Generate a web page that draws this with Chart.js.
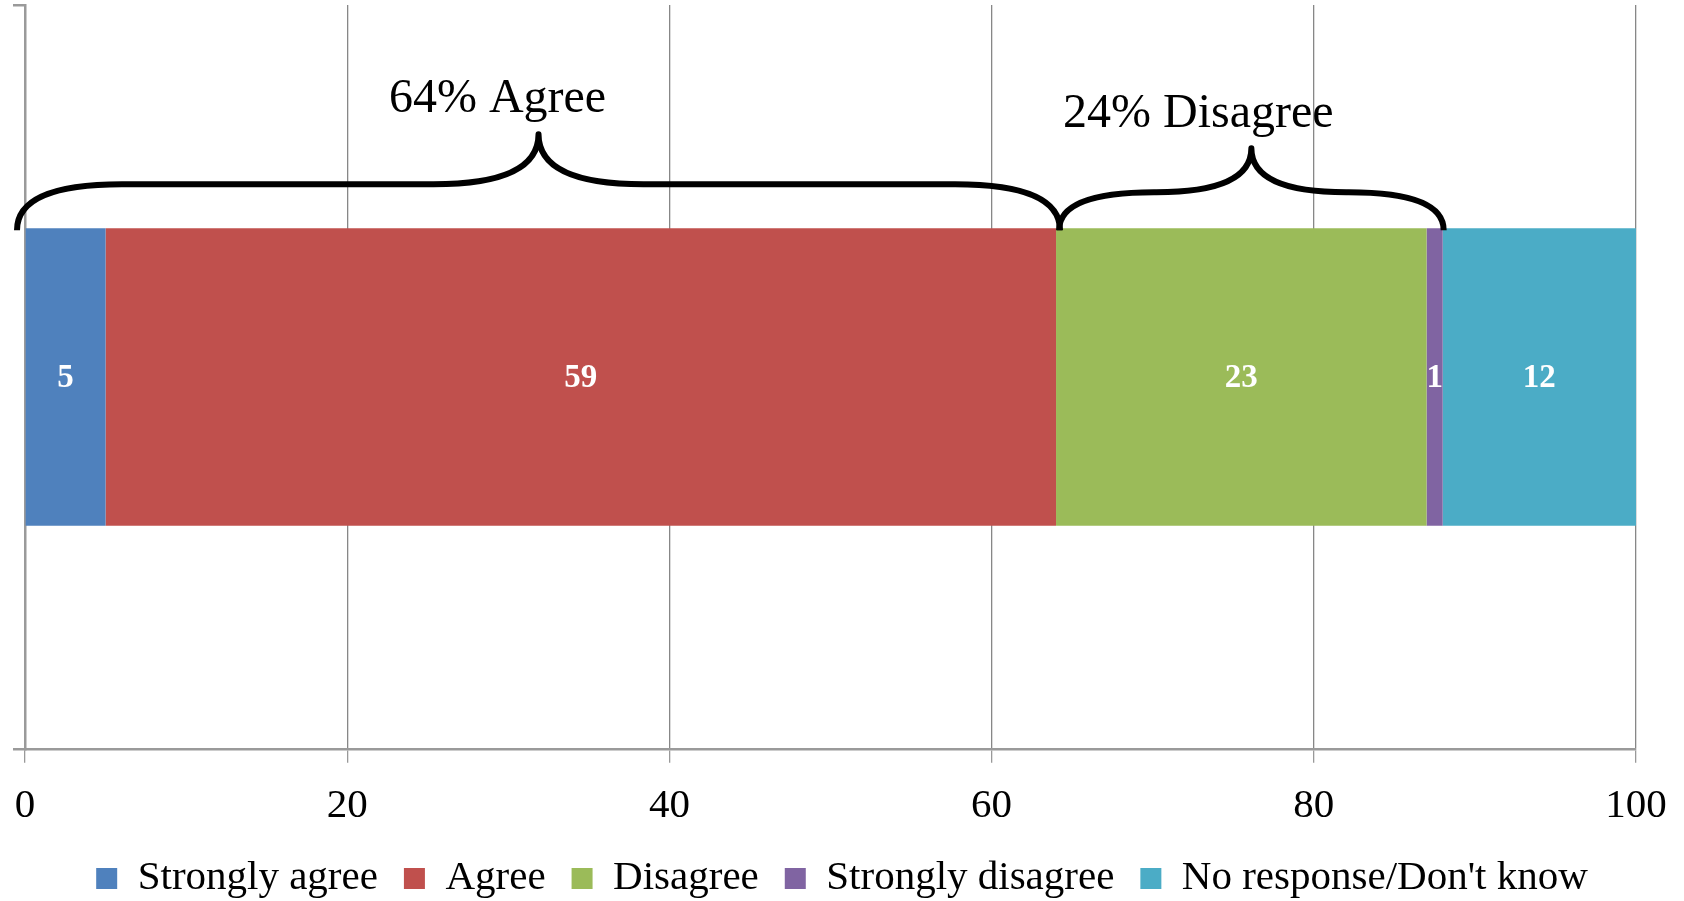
<!DOCTYPE html>
<html>
<head>
<meta charset="utf-8">
<script src="https://cdn.jsdelivr.net/npm/chart.js@4.4.1/dist/chart.umd.min.js"></script>
<style>
  html, body { margin: 0; padding: 0; background: #fff; }
  #wrap { width: 1684px; height: 901px; position: relative; }
</style>
</head>
<body>
<div id="wrap"><canvas id="c"></canvas></div>
<script>
// ---- data ----
const categories = [''];
const seriesNames = ['Strongly agree', 'Agree', 'Disagree', 'Strongly disagree', "No response/Don't know"];
const stronglyAgree = [5];
const agree = [59];
const disagree = [23];
const stronglyDisagree = [1];
const noResponse = [12];
const xTickValues = [0, 20, 40, 60, 80, 100];
const braceLabels = ['64% Agree', '24% Disagree'];
const braceStart = [0, 64];
const braceEnd = [64, 88];

const seriesColors = ['#4F81BD', '#C0504D', '#9BBB59', '#8064A2', '#4BACC6'];
const seriesValues = [stronglyAgree, agree, disagree, stronglyDisagree, noResponse];

const SERIF = '"Liberation Serif", "Times New Roman", serif';

const valueLabelPlugin = {
  id: 'valueLabels',
  afterDatasetsDraw(chart) {
    const ctx = chart.ctx;
    ctx.save();
    ctx.fillStyle = '#ffffff';
    ctx.font = 'bold 33px ' + SERIF;
    ctx.textAlign = 'center';
    ctx.textBaseline = 'middle';
    chart.data.datasets.forEach((ds, i) => {
      const meta = chart.getDatasetMeta(i);
      meta.data.forEach((el, j) => {
        const p = el.getCenterPoint();
        ctx.fillText(String(ds.data[j]), p.x, p.y + 2);
      });
    });
    ctx.restore();
  }
};

const legendPlacePlugin = {
  id: 'legendPlace',
  afterLayout(chart) {
    const L = chart.legend;
    if (!L) return;
    const dx = chart.width / 2 - (L.left + L.right) / 2;
    L.left += dx; L.right += dx;
    const dy = -18;
    L.top += dy; L.bottom += dy;
  }
};

const bracePlugin = {
  id: 'braces',
  afterDatasetsDraw(chart) {
    const ctx = chart.ctx;
    const xs = chart.scales.x;
    const bar = chart.getDatasetMeta(0).data[0];
    const barTop = bar.y - bar.height / 2;
    // per-brace styling (pixel tweaks)
    const style = [
      { dl: -8, dr: 4, flat: 46, peak: 96, r: 105, tdx: -41, tdy: 22 },
      { dl: 3, dr: 1, flat: 38, peak: 82, r: 95, tdx: -53, tdy: 21 }
    ];
    ctx.save();
    braceLabels.forEach((label, i) => {
      const s = style[i];
      const x0 = xs.getPixelForValue(braceStart[i]) + s.dl;
      const x1 = xs.getPixelForValue(braceEnd[i]) + s.dr;
      const xc = (x0 + x1) / 2;
      const base = barTop + 2;
      const yf = base - s.flat;
      const yp = base - s.peak;
      const r = Math.min(s.r, (xc - x0) / 2);
      ctx.beginPath();
      ctx.moveTo(x0, base);
      ctx.quadraticCurveTo(x0, yf, x0 + r, yf);
      ctx.lineTo(xc - r, yf);
      ctx.quadraticCurveTo(xc, yf, xc, yp);
      ctx.quadraticCurveTo(xc, yf, xc + r, yf);
      ctx.lineTo(x1 - r, yf);
      ctx.quadraticCurveTo(x1, yf, x1, base);
      ctx.lineWidth = 6;
      ctx.strokeStyle = '#000';
      ctx.lineJoin = 'round';
      ctx.lineCap = 'butt';
      ctx.stroke();

      ctx.fillStyle = '#000';
      ctx.font = '48px ' + SERIF;
      ctx.textAlign = 'center';
      ctx.textBaseline = 'alphabetic';
      ctx.fillText(label, xc + s.tdx, yp - s.tdy);
    });
    ctx.restore();
  }
};

new Chart(document.getElementById('c'), {
  type: 'bar',
  data: {
    labels: categories,
    datasets: seriesNames.map((name, i) => ({
      label: name,
      data: seriesValues[i],
      backgroundColor: seriesColors[i],
      borderWidth: 0,
      barPercentage: 0.5,
      categoryPercentage: 0.8
    }))
  },
  options: {
    indexAxis: 'y',
    responsive: true,
    maintainAspectRatio: false,
    animation: false,
    layout: { padding: { left: 13, right: 48, top: 5, bottom: -26 } },
    scales: {
      x: {
        stacked: true,
        min: 0,
        max: 100,
        afterBuildTicks(scale) { scale.ticks = xTickValues.map(v => ({ value: v })); },
        afterFit(scale) { scale.paddingLeft = 0; scale.paddingRight = 0; },
        grid: { color: '#878787', lineWidth: 1.3, tickColor: '#999999', tickLength: 14, drawTicks: true },
        border: { display: true, color: '#9a9a9a', width: 2.5 },
        ticks: { color: '#000', font: { family: SERIF, size: 41 }, padding: 19, maxRotation: 0 }
      },
      y: {
        stacked: true,
        type: 'category',
        offset: true,
        grid: { offset: true, drawOnChartArea: false, drawTicks: true, tickLength: 12, color: '#9a9a9a', lineWidth: 2.5 },
        border: { display: true, color: '#9a9a9a', width: 2.5 },
        ticks: { display: false }
      }
    },
    plugins: {
      legend: {
        position: 'bottom',
        labels: {
          boxWidth: 21,
          boxHeight: 21,
          padding: 26,
          color: '#000',
          font: { family: SERIF, size: 41 }
        }
      },
      tooltip: { enabled: false }
    }
  },
  plugins: [valueLabelPlugin, bracePlugin, legendPlacePlugin]
});
</script>
</body>
</html>
